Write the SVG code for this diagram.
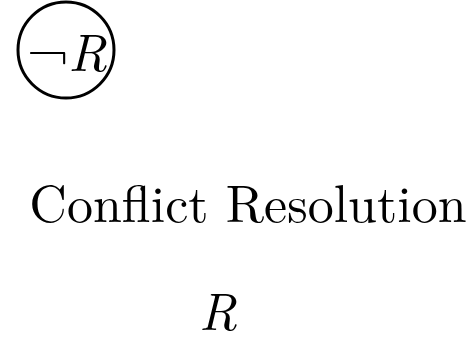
<svg xmlns="http://www.w3.org/2000/svg" width="476" height="340" viewBox="0 0 476 340">
<style>
.t{font-family:"Latin Modern Roman","Liberation Serif","DejaVu Serif",serif;fill:#000}
.i{font-style:italic}
</style>
<rect width="476" height="340" fill="#fff"/>
<g id="notR">
<circle cx="66" cy="50" r="48" fill="none" stroke="#000" stroke-width="3"/>
<text class="t" x="67" y="71" font-size="53" text-anchor="middle">¬<tspan class="i">R</tspan></text>
</g>
<g id="conflict">
<text class="t" x="248" y="222" font-size="52" text-anchor="middle">Conflict Resolution</text>
</g>
<g id="R">
<text class="t i" x="218" y="330" font-size="52" text-anchor="middle">R</text>
</g>
<g id="connectors"></g>
</svg>
